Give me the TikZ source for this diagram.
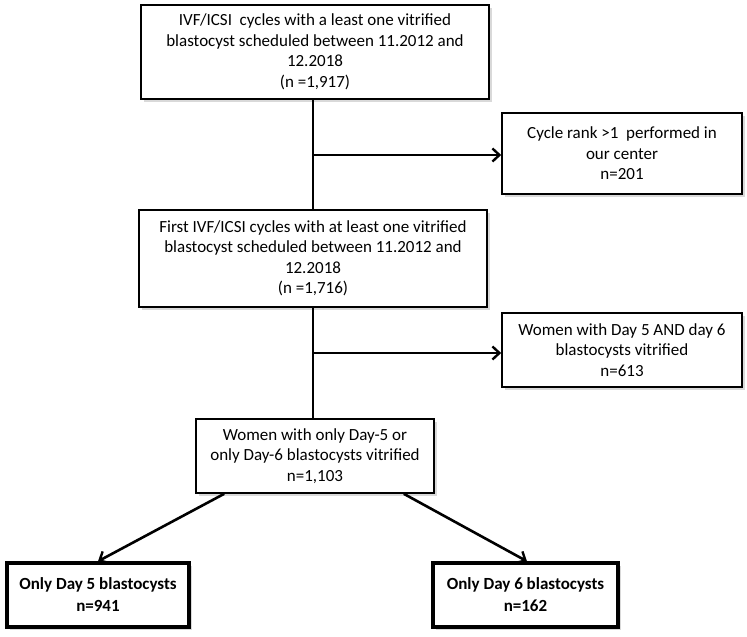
\documentclass[tikz,border=0pt]{standalone}
\usepackage{fontspec}
\setmainfont{Carlito}
\usetikzlibrary{arrows.meta,shadows}
\tikzset{
  box/.style={draw=black, line width=1.6pt, fill=white, align=center, inner sep=0pt,
    font={\fontsize{17}{20.5}\selectfont},
    drop shadow={opacity=0.3, shadow xshift=2.5pt, shadow yshift=-2.5pt}},
  boldbox/.style={box, line width=3.4pt, font={\fontsize{17}{22}\selectfont\bfseries}},
  conn/.style={line width=2.6pt, draw=black},
  arr/.style={conn, -{Straight Barb[length=7pt,width=13pt,line width=2.4pt]}}
}
\begin{document}
\begin{tikzpicture}[x=1pt,y=-1pt]
\useasboundingbox (0,0) rectangle (747,637);
\node[box, minimum width=348pt, minimum height=94pt] (A) at (315,52)
  {IVF/ICSI\ \ cycles with a least one vitrified\\blastocyst scheduled between 11.2012 and\\12.2018\\(n =1,917)};
\node[box, minimum width=240pt, minimum height=81pt] (C) at (622,153.5)
  {Cycle rank >1\ \ performed in\\our center\\n=201};
\node[box, minimum width=348pt, minimum height=97pt] (B) at (313,258.5)
  {First IVF/ICSI cycles with at least one vitrified\\blastocyst scheduled between 11.2012 and\\12.2018\\(n =1,716)};
\node[box, minimum width=240pt, minimum height=74pt] (D) at (622,350)
  {Women with Day 5 AND day 6\\blastocysts vitrified\\n=613};
\node[box, minimum width=238pt, minimum height=74pt] (G) at (315,456)
  {Women with only Day-5 or\\only Day-6 blastocysts vitrified\\n=1,103};
\node[boldbox, minimum width=182pt, minimum height=64pt] (E) at (98,595)
  {Only Day 5 blastocysts\\n=941};
\node[boldbox, minimum width=185pt, minimum height=64pt] (F) at (525.5,595)
  {Only Day 6 blastocysts\\n=162};
% trunk lines
\coordinate (t1) at (313,155);
\coordinate (t2) at (313,353);
\draw[conn] (A.south -| t1) -- (B.north -| t1);
\draw[conn] (B.south -| t2) -- (G.north -| t2);
\draw[arr] (t1) -- (C.west |- t1);
\draw[arr] (t2) -- (D.west |- t2);
% branches
\draw[arr] ([xshift=29pt]G.south west) -- (E.north);
\draw[arr] ([xshift=-31pt]G.south east) -- ([xshift=1.5pt]F.north);
\end{tikzpicture}
\end{document}
